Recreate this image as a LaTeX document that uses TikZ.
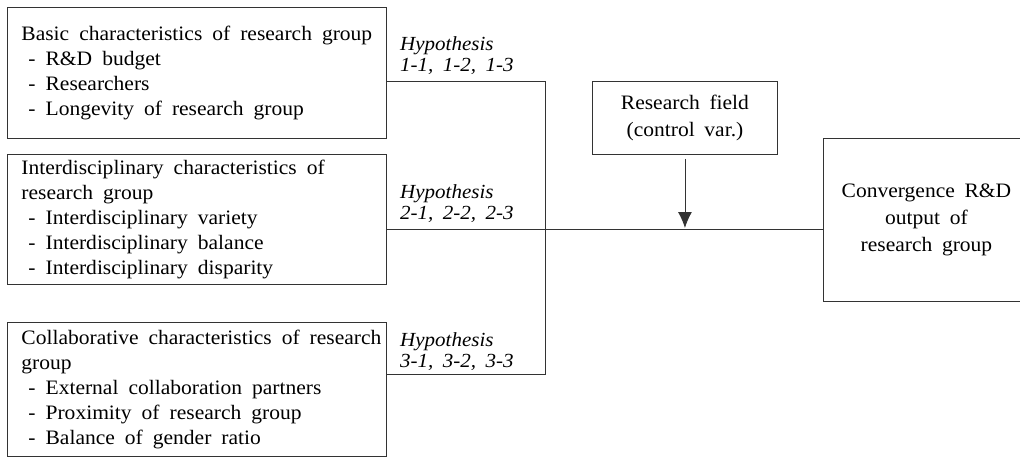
\documentclass[tikz,border=0pt]{standalone}
\usepackage{fontspec}
\setmainfont{Liberation Serif}[FakeStretch=1.05, WordSpace=1.8]
\usetikzlibrary{arrows.meta}
\newcommand{\boxline}[1]{\mbox{#1}}
\begin{document}
\begin{tikzpicture}[x=1pt,y=-1pt,
  ln/.style={draw=black!80, line width=0.9pt},
  box/.style={ln, rectangle, anchor=north west, inner xsep=14pt, inner ysep=0pt,
    align=left, font=\fontsize{20.5}{25}\selectfont,
    execute at begin node={\spaceskip=10pt\relax\hyphenpenalty=10000\relax}},
  hyp/.style={anchor=west, inner sep=0pt, align=left,
    font=\fontsize{20}{21}\selectfont\itshape},
  cbox/.style={ln, rectangle, anchor=north west, inner sep=0pt, align=center,
    font=\fontsize{20.5}{27}\selectfont},
  arr/.style={ln, -{Latex[length=16pt,width=14pt]}}]
\useasboundingbox (0,0) rectangle (1020,458);
\node[box, minimum width=379pt, minimum height=131pt, text width=351pt] (b1) at (7,7)
  {\boxline{Basic characteristics of research group}\\
   \hspace*{7pt}\boxline{- R\&D budget}\\
   \hspace*{7pt}\boxline{- Researchers}\\
   \hspace*{7pt}\boxline{- Longevity of research group}};
\node[box, minimum width=379pt, minimum height=130pt, text width=351pt] (b2) at (7,154)
  {\boxline{Interdisciplinary characteristics of}\\
   \boxline{research group}\\
   \hspace*{7pt}\boxline{- Interdisciplinary variety}\\
   \hspace*{7pt}\boxline{- Interdisciplinary balance}\\
   \hspace*{7pt}\boxline{- Interdisciplinary disparity}};
\node[box, minimum width=379pt, minimum height=134pt, text width=351pt] (b3) at (7,322)
  {\boxline{Collaborative characteristics of research}\\
   \boxline{group}\\
   \hspace*{7pt}\boxline{- External collaboration partners}\\
   \hspace*{7pt}\boxline{- Proximity of research group}\\
   \hspace*{7pt}\boxline{- Balance of gender ratio}};
\node[cbox, minimum width=185pt, minimum height=73pt] (rf) at (592,81)
  {Research field\\(control var.)};
\node[cbox, minimum width=206pt, minimum height=163pt] (out) at (823,138)
  {Convergence R\&D\\output of\\research group};
\node[hyp] (h1) at (400,56) {Hypothesis\\1-1, 1-2, 1-3};
\node[hyp] (h2) at (400,204) {Hypothesis\\2-1, 2-2, 2-3};
\node[hyp] (h3) at (400,352) {Hypothesis\\3-1, 3-2, 3-3};
\coordinate (j1) at (545,81);
\coordinate (j2) at (545,229);
\coordinate (j3) at (545,374);
\draw[ln] (b1.east |- j1) -- (j1) -- (j3) -- (b3.east |- j3);
\draw[ln] (b2.east |- j2) -- (out.west |- j2);
\draw[arr] ([yshift=-4pt]rf.south) -- ([yshift=1pt]rf.south |- j2);
\end{tikzpicture}
\end{document}
